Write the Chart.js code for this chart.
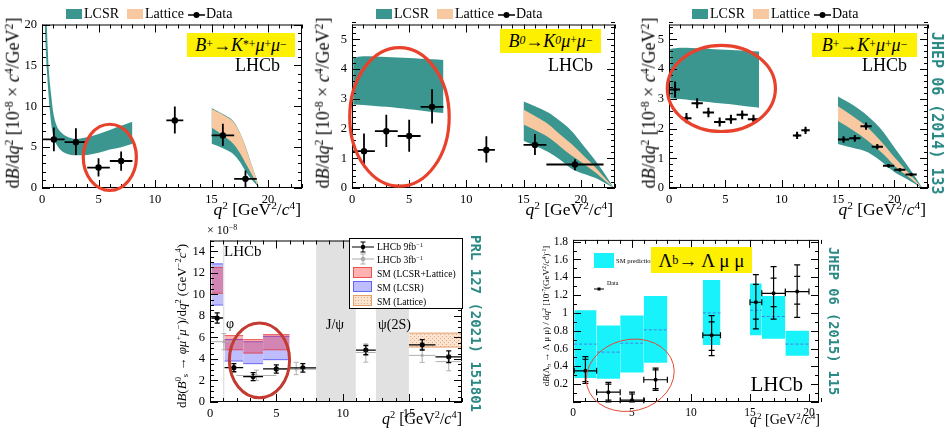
<!DOCTYPE html>
<html>
<head>
<meta charset="utf-8">
<script src="https://cdn.jsdelivr.net/npm/chart.js@4.4.1/dist/chart.umd.min.js"></script>
<style>
body { margin: 0; background: #fff; }
#fig { position: relative; width: 944px; height: 434px; overflow: hidden; background: #fff; font-family: "Liberation Serif", serif; color: #000; }
.s { font-size: 65%; vertical-align: 0.55em; }
.b { font-size: 65%; vertical-align: -0.3em; }
.yel { background: #fdf000; display: flex; align-items: center; justify-content: center; }
.ref { writing-mode: vertical-rl; font-family: "DejaVu Sans Mono", monospace; font-weight: bold; color: #2b8a85; }
.rot { transform: translate(-50%, -50%) rotate(-90deg); }
</style>
</head>
<body>
<div id="fig"></div>
<script>
// ---- panel 1 : B+ -> K*+ mu mu ----
const p1Bins = [[0.1, 2], [2, 4], [4, 6], [6, 8], [11, 12.5], [15, 17], [17, 19]];
const p1Val = [5.94, 5.6, 2.5, 3.3, 8.27, 6.43, 1.12];
const p1Up = [1.46, 1.7, 1.15, 1.15, 1.69, 1.44, 1.01];
const p1Dn = [1.44, 1.55, 1.1, 1.2, 1.6, 1.29, 1.02];
const p1LowQ = [0.1, 0.3, 0.45, 0.6, 0.8, 1.0, 1.3, 1.7, 2.2, 3.0, 4.0, 5.0, 6.0, 7.0, 8.0];
const p1LowLo = [26, 18, 14, 11, 8, 6.3, 5.3, 4.6, 4.2, 4.0, 4.05, 4.3, 4.7, 5.0, 5.4];
const p1LowHi = [40, 25, 19, 14.5, 11.5, 9.2, 7.6, 6.8, 6.3, 6.0, 6.2, 6.6, 7.1, 7.6, 8.1];
const p1HighQ = [15, 16, 17, 17.5, 18, 18.5, 18.9, 19.2];
const p1HighLo = [5.4, 4.85, 4.05, 3.2, 2.05, 1.1, 0.5, 0];
const p1LatLo = [7.4, 6.45, 5.3, 4.3, 3.05, 1.8, 0.8, 0];
const p1LatHi = [9.65, 8.95, 7.95, 6.75, 5.05, 2.98, 1.39, 0];
const p1HighHi = [9.8, 9.05, 8.05, 6.8, 5.1, 3.0, 1.4, 0];

// ---- panel 2 : B0 -> K0 mu mu ----
const p2Bins = [[0.1, 2], [2, 4], [4, 6], [6, 8], [11, 12.5], [15, 17], [17, 22]];
const p2Val = [1.24, 1.91, 1.75, 2.73, 1.28, 1.45, 0.79];
const p2Up = [0.59, 0.55, 0.55, 0.59, 0.46, 0.37, 0.18];
const p2Dn = [0.54, 0.53, 0.53, 0.56, 0.42, 0.34, 0.19];
const p2LowQ = [0.1, 1, 2, 3, 4, 5, 6, 7, 8];
const p2LowLo = [2.81, 2.79, 2.76, 2.73, 2.69, 2.65, 2.61, 2.56, 2.52];
const p2LowHi = [4.38, 4.43, 4.42, 4.41, 4.39, 4.37, 4.35, 4.33, 4.31];
const p2HighQ = [15, 16, 17.2, 18.2, 19.2, 20.3, 21.4, 22.2, 22.9];
const p2HighLo = [1.59, 1.42, 1.2, 0.95, 0.65, 0.47, 0.32, 0.15, 0];
const p2LatLo = [2.14, 1.95, 1.7, 1.4, 1.09, 0.8, 0.49, 0.22, 0];
const p2LatHi = [2.64, 2.42, 2.14, 1.8, 1.48, 1.07, 0.65, 0.3, 0];
const p2HighHi = [2.91, 2.75, 2.53, 2.25, 1.92, 1.4, 0.87, 0.42, 0];

// ---- panel 3 : B+ -> K+ mu mu ----
const p3Bins = [[0.1, 0.98], [1.1, 2], [2, 3], [3, 4], [4, 5], [5, 6], [6, 7], [7, 8], [11, 11.75], [11.75, 12.5],
  [15, 16], [16, 17], [17, 18], [18, 19], [19, 20], [20, 21], [21, 22]];
const p3Val = [3.31, 2.35, 2.85, 2.54, 2.22, 2.31, 2.46, 2.31, 1.77, 1.94, 1.63, 1.67, 2.08, 1.39, 0.75, 0.61, 0.45];
const p3Err = [0.27, 0.17, 0.17, 0.16, 0.15, 0.15, 0.15, 0.15, 0.12, 0.12, 0.11, 0.11, 0.12, 0.09, 0.06, 0.05, 0.05];
const p3LowQ = [0.1, 1, 2, 3, 4, 5, 6, 7, 8];
const p3LowLo = [3.02, 2.99, 2.95, 2.91, 2.87, 2.83, 2.79, 2.74, 2.70];
const p3LowHi = [4.68, 4.72, 4.71, 4.69, 4.67, 4.65, 4.63, 4.61, 4.59];
const p3HighQ = [15, 16.3, 17.65, 19, 20, 21, 21.9, 22.5];
const p3HighLo = [1.48, 1.35, 1.2, 0.85, 0.54, 0.33, 0.13, 0];
const p3LatLo = [2.25, 1.95, 1.59, 1.15, 0.76, 0.45, 0.18, 0];
const p3LatHi = [2.75, 2.42, 2.03, 1.5, 1.04, 0.62, 0.25, 0];
const p3HighHi = [3.08, 2.8, 2.42, 1.9, 1.37, 0.85, 0.35, 0];

// ---- panel 4 : Bs -> phi mu mu ----
const p4Veto = [[0.98, 1.1], [8, 11], [12.5, 15]];
const p4Bins9 = [[0.1, 0.98], [1.1, 2.5], [2.5, 4], [4, 6], [6, 8], [11, 12.5], [15, 17], [17, 19]];
const p4Val9 = [7.8, 3.19, 2.36, 3.07, 3.17, 4.82, 5.31, 4.2];
const p4Err9 = [0.48, 0.38, 0.37, 0.38, 0.4, 0.43, 0.48, 0.55];
const p4Bins3 = [[0.1, 2], [2, 5], [5, 8], [11, 12.5], [15, 17], [17, 19]];
const p4Val3 = [5.6, 2.46, 3.04, 4.6, 4.33, 3.75];
const p4Up3 = [0.75, 0.5, 0.65, 0.8, 0.6, 0.65];
const p4Dn3 = [0.75, 0.45, 0.5, 0.9, 0.65, 0.85];
const p4SmBins = [[0.1, 0.98], [1.1, 2.5], [2.5, 4], [4, 6]];
const p4ComboLo = [10.1, 4.85, 4.54, 4.85];
const p4ComboHi = [12.5, 6.17, 5.8, 6.26];
const p4LcsrLo = [9.0, 3.8, 3.56, 3.93];
const p4LcsrHi = [12.83, 5.8, 5.6, 6.1];
const p4LatBins = [[15, 19]];
const p4LatLo = [5.1];
const p4LatHi = [6.4];

// ---- panel 5 : Lambda_b -> Lambda mu mu ----
const p5Bins = [[0.1, 2], [2, 4], [4, 6], [6, 8], [11, 12.5], [15, 16], [16, 18], [18, 20]];
const p5Val = [0.35, 0.11, 0.02, 0.25, 0.75, 1.12, 1.22, 1.24];
const p5Up = [0.16, 0.11, 0.09, 0.13, 0.22, 0.31, 0.30, 0.30];
const p5Dn = [0.14, 0.11, 0.02, 0.12, 0.23, 0.30, 0.29, 0.29];
const p5InUp = [0.13, 0.09, 0.07, 0.11, 0.15, 0.20, 0.17, 0.17];
const p5InDn = [0.12, 0.09, 0.02, 0.10, 0.17, 0.19, 0.15, 0.14];
const p5SmLo = [0.27, 0.26, 0.33, 0.44, 0.64, 0.75, 0.71, 0.52];
const p5SmHi = [1.03, 0.86, 0.97, 1.19, 1.37, 1.33, 1.19, 0.8];
const p5SmMid = [0.65, 0.56, 0.66, 0.81, 1.0, 1.03, 0.96, 0.65];

const TEAL = '#3c9690';
const PEACH = '#f8c9a0';
const CLEAR = 'rgba(0,0,0,0)';
const Y_W = 44, X_H = 24, PAD = 10;
const fig = document.getElementById('fig');

// helpers for datasets
function edge(xs, ys, order, fill, color) {
    return {
        type: 'line', data: xs.map((x, i) => ({ x, y: ys[i] })),
        borderColor: CLEAR, borderWidth: 0, pointRadius: 0,
        fill: fill, backgroundColor: color || CLEAR,
        cubicInterpolationMode: 'monotone', order, clip: 0
    };
}
function band(xs, lo, hi, color, order) {
    return [edge(xs, lo, order, false), edge(xs, hi, order, '-1', color)];
}
function boxes(bins, lo, hi, color, border, order) {
    const out = [];
    bins.forEach((b, i) => {
        out.push({ type: 'line', data: [{ x: b[0], y: lo[i] }, { x: b[1], y: lo[i] }], borderColor: border, borderWidth: border === CLEAR ? 0 : 1, pointRadius: 0, fill: false, order, clip: 0 });
        out.push({ type: 'line', data: [{ x: b[0], y: hi[i] }, { x: b[1], y: hi[i] }], borderColor: border, borderWidth: border === CLEAR ? 0 : 1, pointRadius: 0, fill: '-1', backgroundColor: color, order, clip: 0 });
    });
    return out;
}
function points(bins, val, color, r) {
    return {
        type: 'line', showLine: false, data: bins.map((b, i) => ({ x: (b[0] + b[1]) / 2, y: val[i] })),
        pointRadius: r, pointBackgroundColor: color, pointBorderColor: color, pointBorderWidth: 0, order: 0
    };
}

// ROOT style frame with ticks on all sides
function framePlugin(sc) {
    return {
        id: 'frame',
        afterDatasetsDraw(chart) {
            const { ctx, chartArea: a, scales: { x, y } } = chart;
            ctx.save();
            ctx.strokeStyle = '#000';
            ctx.lineWidth = 1;
            ctx.strokeRect(a.left + 0.5, a.top + 0.5, a.right - a.left - 1, a.bottom - a.top - 1);
            ctx.beginPath();
            const nx = Math.round((sc.x[1] - sc.x[0]) / sc.xm);
            for (let i = 0; i <= nx; i++) {
                const v = sc.x[0] + i * sc.xm;
                const major = Math.abs(v / sc.xs - Math.round(v / sc.xs)) < 1e-6;
                const L = major ? 8 : 4;
                const px = Math.round(x.getPixelForValue(v)) + 0.5;
                ctx.moveTo(px, a.bottom); ctx.lineTo(px, a.bottom - L);
                ctx.moveTo(px, a.top); ctx.lineTo(px, a.top + L);
            }
            const ny = Math.round((sc.y[1] - sc.y[0]) / sc.ym);
            for (let i = 0; i <= ny; i++) {
                const v = sc.y[0] + i * sc.ym;
                const major = Math.abs(v / sc.ys - Math.round(v / sc.ys)) < 1e-6;
                const L = major ? 8 : 4;
                const py = Math.round(y.getPixelForValue(v)) + 0.5;
                ctx.moveTo(a.left, py); ctx.lineTo(a.left + L, py);
                ctx.moveTo(a.right, py); ctx.lineTo(a.right - L, py);
            }
            ctx.stroke();
            ctx.restore();
        }
    };
}

// error bars drawn from the data arrays through the scales
function errPlugin(list) {
    return {
        id: 'errbars',
        afterDatasetsDraw(chart) {
            const { ctx, scales: { x, y } } = chart;
            ctx.save();
            list.forEach(s => {
                ctx.strokeStyle = s.color;
                ctx.lineWidth = s.lw;
                s.bins.forEach((b, i) => {
                    const xc = x.getPixelForValue((b[0] + b[1]) / 2);
                    const x0 = x.getPixelForValue(b[0]), x1 = x.getPixelForValue(b[1]);
                    const yc = y.getPixelForValue(s.val[i]);
                    const y0 = y.getPixelForValue(Math.max(s.val[i] - s.dn[i], 0));
                    const y1 = y.getPixelForValue(s.val[i] + s.up[i]);
                    ctx.beginPath();
                    ctx.moveTo(x0, yc); ctx.lineTo(x1, yc);
                    ctx.moveTo(xc, y0); ctx.lineTo(xc, y1);
                    if (s.cap) {
                        ctx.moveTo(xc - s.cap, y0); ctx.lineTo(xc + s.cap, y0);
                        ctx.moveTo(xc - s.cap, y1); ctx.lineTo(xc + s.cap, y1);
                        if (s.xcap) {
                            ctx.moveTo(x0, yc - s.cap); ctx.lineTo(x0, yc + s.cap);
                            ctx.moveTo(x1, yc - s.cap); ctx.lineTo(x1, yc + s.cap);
                        }
                    }
                    if (s.inUp) {
                        const i0 = y.getPixelForValue(Math.max(s.val[i] - s.inDn[i], 0));
                        const i1 = y.getPixelForValue(s.val[i] + s.inUp[i]);
                        ctx.moveTo(xc - s.cap, i0); ctx.lineTo(xc + s.cap, i0);
                        ctx.moveTo(xc - s.cap, i1); ctx.lineTo(xc + s.cap, i1);
                    }
                    ctx.stroke();
                });
            });
            ctx.restore();
        }
    };
}

// red hand-drawn rings
function ringPlugin(rings) {
    return {
        id: 'rings',
        afterDraw(chart) {
            const { ctx, scales: { x, y } } = chart;
            rings.forEach(r => {
                const cx = x.getPixelForValue(r.cx), cy = y.getPixelForValue(r.cy);
                const rx = Math.abs(x.getPixelForValue(r.cx + r.rx) - cx);
                const ry = Math.abs(y.getPixelForValue(r.cy + r.ry) - cy);
                ctx.save();
                ctx.strokeStyle = r.color;
                ctx.lineWidth = r.lw;
                ctx.beginPath();
                ctx.ellipse(cx, cy, rx, ry, r.rot || 0, 0, 2 * Math.PI);
                ctx.stroke();
                ctx.restore();
            });
        }
    };
}

function fmt(v, step, hideZero) {
    if (Math.abs(v / step - Math.round(v / step)) > 1e-6) return '';
    if (hideZero && Math.abs(v) < 1e-9) return '';
    return String(Number(v.toFixed(2)));
}

function makeChart(box, sc, datasets, errs, rings) {
    const wrap = document.createElement('div');
    wrap.style.cssText = 'position:absolute;left:' + (box.l - Y_W) + 'px;top:' + (box.t - PAD) + 'px;width:' +
        (box.r - box.l + Y_W + PAD) + 'px;height:' + (box.b - box.t + PAD + X_H) + 'px;';
    const cv = document.createElement('canvas');
    wrap.appendChild(cv);
    fig.appendChild(wrap);
    const tickFont = { family: 'Liberation Serif', size: sc.fs };
    return new Chart(cv, {
        type: 'line',
        data: { datasets },
        options: {
            responsive: true, maintainAspectRatio: false, animation: false, events: [],
            layout: { padding: { top: PAD, right: PAD, left: 0, bottom: 0 } },
            plugins: { legend: { display: false }, tooltip: { enabled: false }, colors: { enabled: false } },
            scales: {
                x: {
                    type: 'linear', min: sc.x[0], max: sc.x[1],
                    afterFit: s => { s.height = X_H; },
                    grid: { display: false, drawTicks: false }, border: { display: false },
                    ticks: { stepSize: sc.xs, padding: 4, color: '#000', font: tickFont, maxRotation: 0, autoSkip: false, includeBounds: false, callback: v => fmt(v, sc.xs) }
                },
                y: {
                    type: 'linear', min: sc.y[0], max: sc.y[1],
                    afterFit: s => { s.width = Y_W; },
                    grid: { display: false, drawTicks: false }, border: { display: false },
                    ticks: { stepSize: sc.ys, padding: 5, color: '#000', font: tickFont, autoSkip: false, includeBounds: false, callback: v => fmt(v, sc.ys, sc.hideY0) }
                }
            }
        },
        plugins: [framePlugin(sc), errPlugin(errs), ringPlugin(rings)]
    });
}

// hatched fill for the lattice box
function dotPattern() {
    const c = document.createElement('canvas');
    c.width = 4; c.height = 4;
    const g = c.getContext('2d');
    g.fillStyle = '#fbe4cf'; g.fillRect(0, 0, 4, 4);
    g.fillStyle = '#e8aa80'; g.fillRect(0, 0, 1, 1); g.fillRect(2, 2, 1, 1);
    return g.createPattern(c, 'repeat');
}

// ---------- charts ----------
makeChart({ l: 42, t: 22, r: 302, b: 188 },
    { x: [0, 23], y: [0, 20], xs: 5, xm: 1, ys: 5, ym: 1, fs: 12.5 },
    [points(p1Bins, p1Val, '#000', 3.2),
    ...band(p1HighQ, p1LatLo, p1LatHi, PEACH, 3),
    ...band(p1HighQ, p1HighLo, p1HighHi, TEAL, 4),
    ...band(p1LowQ, p1LowLo, p1LowHi, TEAL, 4)],
    [{ bins: p1Bins, val: p1Val, up: p1Up, dn: p1Dn, color: '#000', lw: 1.8 }],
    [{ cx: 6.0, cy: 3.75, rx: 2.35, ry: 4.05, color: '#e8412c', lw: 3.2 }]);

makeChart({ l: 352, t: 22, r: 615, b: 188 },
    { x: [0, 23], y: [0, 5.5], xs: 5, xm: 1, ys: 1, ym: 0.2, fs: 12.5 },
    [points(p2Bins, p2Val, '#000', 3.2),
    ...band(p2HighQ, p2LatLo, p2LatHi, PEACH, 3),
    ...band(p2HighQ, p2HighLo, p2HighHi, TEAL, 4),
    ...band(p2LowQ, p2LowLo, p2LowHi, TEAL, 4)],
    [{ bins: p2Bins, val: p2Val, up: p2Up, dn: p2Dn, color: '#000', lw: 1.8 }],
    [{ cx: 4.15, cy: 2.39, rx: 4.35, ry: 2.33, color: '#e8412c', lw: 3.2 }]);

makeChart({ l: 669, t: 22, r: 928, b: 188 },
    { x: [0, 23], y: [0, 5.5], xs: 5, xm: 1, ys: 1, ym: 0.2, fs: 12.5 },
    [points(p3Bins, p3Val, '#000', 1.8),
    ...band(p3HighQ, p3LatLo, p3LatHi, PEACH, 3),
    ...band(p3HighQ, p3HighLo, p3HighHi, TEAL, 4),
    ...band(p3LowQ, p3LowLo, p3LowHi, TEAL, 4)],
    [{ bins: p3Bins, val: p3Val, up: p3Err, dn: p3Err, color: '#000', lw: 2 }],
    [{ cx: 4.65, cy: 3.35, rx: 4.8, ry: 1.45, color: '#e8412c', lw: 3.2 }]);

makeChart({ l: 210, t: 238, r: 462, b: 402 },
    { x: [0, 19], y: [0, 15], xs: 5, xm: 1, ys: 2, ym: 0.5, fs: 12.5 },
    [points(p4Bins9, p4Val9, '#000', 2.6),
    points(p4Bins3, p4Val3, '#a8a8a8', 1.6),
    ...boxes(p4SmBins, p4ComboLo, p4ComboHi, 'rgba(255,0,0,0.3)', 'rgba(230,40,40,0.7)', 3),
    ...boxes(p4SmBins, p4LcsrLo, p4LcsrHi, 'rgba(40,40,255,0.3)', 'rgba(60,60,240,0.7)', 4),
    ...boxes(p4LatBins, p4LatLo, p4LatHi, dotPattern(), 'rgba(225,140,80,0.8)', 4),
    ...boxes(p4Veto, p4Veto.map(() => 0), p4Veto.map(() => 15), '#e1e1e1', CLEAR, 6)],
    [{ bins: p4Bins3, val: p4Val3, up: p4Up3, dn: p4Dn3, color: '#b0b0b0', lw: 1, cap: 2.5 },
    { bins: p4Bins9, val: p4Val9, up: p4Err9, dn: p4Err9, color: '#000', lw: 1.3, cap: 2.5 }],
    [{ cx: 3.73, cy: 3.87, rx: 2.27, ry: 3.47, color: '#c23a30', lw: 3 }]);

const p5Mid = [];
p5Bins.forEach((b, i) => { p5Mid.push({ x: b[0], y: p5SmMid[i] }, { x: b[1], y: p5SmMid[i] }, { x: b[1], y: null }); });
makeChart({ l: 573, t: 238, r: 819, b: 402 },
    { x: [0, 20.85], y: [0, 1.82], xs: 5, xm: 1, ys: 0.2, ym: 0.1, fs: 11.5, hideY0: true },
    [points(p5Bins, p5Val, '#000', 2),
    { type: 'line', data: p5Mid, borderColor: '#4a80e8', borderWidth: 1, borderDash: [3, 2], pointRadius: 0, spanGaps: false, fill: false, order: 2 },
    ...boxes(p5Bins, p5SmLo, p5SmHi, '#18f2fa', CLEAR, 4)],
    [{ bins: p5Bins, val: p5Val, up: p5Up, dn: p5Dn, inUp: p5InUp, inDn: p5InDn, color: '#000', lw: 1.2, cap: 3, xcap: true }],
    [{ cx: 4.85, cy: 0.3, rx: 3.77, ry: 0.4, rot: -0.25, color: '#e04a35', lw: 1 }]);

// ---------- text and legends ----------
function add(html, css, cls) {
    const d = document.createElement('div');
    d.innerHTML = html;
    d.style.cssText = 'position:absolute;white-space:nowrap;line-height:1;' + css;
    if (cls) d.className = cls;
    fig.appendChild(d);
    return d;
}
const dataSym = '<svg width="17" height="12"><line x1="0" y1="6" x2="17" y2="6" stroke="#000" stroke-width="1.5"/><circle cx="8.5" cy="6" r="3" fill="#000"/></svg>';
const yTop = 'd<i>B</i>/d<i>q</i><span class="s">2</span> [10<span class="s">-8</span> × <i>c</i><span class="s">4</span>/GeV<span class="s">2</span>]';
const xTop = '<i>q</i><span class="s">2</span> [GeV<span class="s">2</span>/<i>c</i><span class="s">4</span>]';

// legends of the top row
const legX = [66, 376, 692];
legX.forEach(x0 => {
    add('', 'left:' + x0 + 'px;top:9px;width:16px;height:10px;background:' + TEAL + ';');
    add('LCSR', 'left:' + (x0 + 18) + 'px;top:7px;font-size:14px;');
    add('', 'left:' + (x0 + 61) + 'px;top:9px;width:16px;height:10px;background:' + PEACH + ';');
    add('Lattice', 'left:' + (x0 + 79) + 'px;top:7px;font-size:14px;');
    add(dataSym, 'left:' + (x0 + 122) + 'px;top:8px;');
    add('Data', 'left:' + (x0 + 140) + 'px;top:7px;font-size:14px;');
});

// yellow decay labels and LHCb
add('<i>B</i><span class="s">+</span>→ <i>K</i><span class="s">*+</span><i>μ</i><span class="s">+</span><i>μ</i><span class="s">−</span>',
    'left:187px;top:33px;width:108px;height:24px;font-size:18px;', 'yel');
add('<i>B</i><span class="s"><i>0</i></span>→ <i>K</i><span class="s"><i>0</i></span><i>μ</i><span class="s">+</span><i>μ</i><span class="s">−</span>',
    'left:500px;top:29px;width:101px;height:24px;font-size:18px;', 'yel');
add('<i>B</i><span class="s">+</span>→ <i>K</i><span class="s">+</span><i>μ</i><span class="s">+</span><i>μ</i><span class="s">−</span>',
    'left:812px;top:33px;width:105px;height:24px;font-size:18px;', 'yel');
add('LHCb', 'left:230px;top:56px;width:50px;text-align:right;font-size:18px;');
add('LHCb', 'left:543px;top:56px;width:50px;text-align:right;font-size:18px;');
add('LHCb', 'left:857px;top:56px;width:50px;text-align:right;font-size:18px;');

// axis titles of the top row
add(yTop, 'left:13px;top:103px;font-size:18px;', 'rot');
add(yTop, 'left:323px;top:103px;font-size:18px;', 'rot');
add(yTop, 'left:649px;top:103px;font-size:18px;', 'rot');
add(xTop, 'left:181px;top:200px;width:120px;text-align:right;font-size:17.5px;');
add(xTop, 'left:493px;top:200px;width:120px;text-align:right;font-size:17.5px;');
add(xTop, 'left:806px;top:200px;width:120px;text-align:right;font-size:17.5px;');

// journal references
add('JHEP 06 (2014) 133', 'left:929px;top:32px;font-size:15px;', 'ref');
add('PRL 127 (2021) 151801', 'left:469px;top:235px;font-size:14px;', 'ref');
add('JHEP 06 (2015) 115', 'left:826px;top:247px;font-size:13.7px;', 'ref');

// panel 4 texts
add('d<i>B</i>(<i>B</i><span class="s">0</span><span class="b">s</span> → <i>φμ</i><span class="s">+</span><i>μ</i><span class="s">−</span>)/d<i>q</i><span class="s">2</span> (GeV<span class="s">−2</span><i>c</i><span class="s">4</span>)',
    'left:182px;top:326px;font-size:13px;', 'rot');
add('× 10<span class="s">−8</span>', 'left:207px;top:224px;font-size:12px;');
add('LHCb', 'left:224px;top:244px;font-size:15px;');
add('φ', 'left:226px;top:317px;font-size:14px;');
add('J/ψ', 'left:326px;top:318px;font-size:14px;');
add('ψ(2S)', 'left:378px;top:318px;font-size:14px;');
add(xTop, 'left:342px;top:410px;width:120px;text-align:right;font-size:16px;');
add('', 'left:349px;top:238px;width:112px;height:69px;background:#fff;border:1px solid #000;');
const errSym = c => '<svg width="22" height="12"><line x1="0" y1="6" x2="22" y2="6" stroke="' + c + '" stroke-width="1"/><line x1="11" y1="1" x2="11" y2="11" stroke="' + c + '"/><line x1="8.5" y1="1" x2="13.5" y2="1" stroke="' + c + '"/><line x1="8.5" y1="11" x2="13.5" y2="11" stroke="' + c + '"/><circle cx="11" cy="6" r="2.3" fill="' + c + '"/></svg>';
add(errSym('#000'), 'left:352px;top:240px;');
add('LHCb 9fb<span class="s">−1</span>', 'left:377px;top:242px;font-size:9.6px;');
add(errSym('#aaa'), 'left:352px;top:252px;');
add('LHCb 3fb<span class="s">−1</span>', 'left:377px;top:255px;font-size:9.6px;');
add('', 'left:353px;top:267px;width:19px;height:11px;background:rgba(255,0,0,0.3);border:1px solid rgba(230,40,40,0.7);box-sizing:border-box;');
add('SM (LCSR+Lattice)', 'left:377px;top:269px;font-size:9.6px;');
add('', 'left:353px;top:281px;width:19px;height:11px;background:rgba(40,40,255,0.3);border:1px solid rgba(60,60,240,0.7);box-sizing:border-box;');
add('SM (LCSR)', 'left:377px;top:283px;font-size:9.6px;');
add('', 'left:353px;top:295px;width:19px;height:11px;background-color:#fbe4cf;background-image:radial-gradient(#e8aa80 0.7px, transparent 0.9px);background-size:3px 3px;border:1px solid rgba(225,140,80,0.8);box-sizing:border-box;');
add('SM (Lattice)', 'left:377px;top:297px;font-size:9.6px;');

// panel 5 texts
add('d<i>B</i>(Λ<span class="b">b</span> → Λ μ μ) / d<i>q</i><span class="s">2</span> [10<span class="s">-7</span>(GeV<span class="s">2</span>/<i>c</i><span class="s">4</span>)<span class="s">-1</span>]',
    'left:547px;top:316px;font-size:9px;', 'rot');
add('', 'left:594px;top:253px;width:20px;height:15px;background:#18f2fa;');
add('SM prediction', 'left:616px;top:258px;font-size:6.6px;');
add('<svg width="10" height="6"><line x1="0" y1="3" x2="10" y2="3" stroke="#000"/><rect x="3.5" y="1.5" width="3" height="3" fill="#000"/></svg>', 'left:594px;top:279px;');
add('Data', 'left:607px;top:280px;font-size:6px;');
add('Λ<span class="b">b</span> → Λ μ μ', 'left:651px;top:247px;width:101px;height:26px;font-size:19px;', 'yel');
add('LHCb', 'left:733px;top:374px;width:70px;text-align:right;font-size:21px;');
add(xTop, 'left:700px;top:412px;width:120px;text-align:right;font-size:14px;');
</script>
</body>
</html>
